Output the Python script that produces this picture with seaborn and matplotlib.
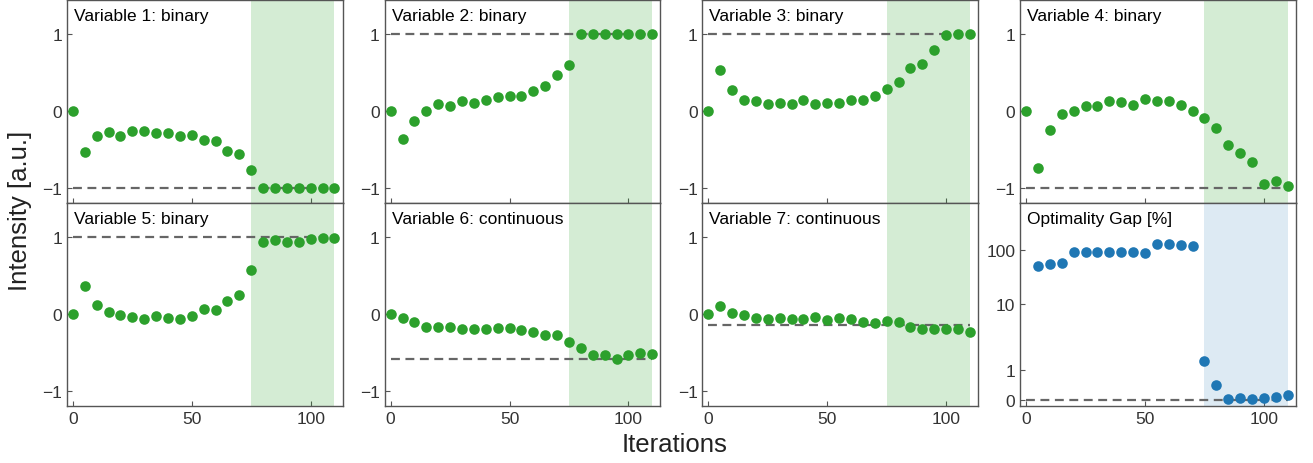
import numpy as np
import pandas as pd
import matplotlib
matplotlib.use('Agg')
import matplotlib.pyplot as plt
import seaborn as sns

# ---- data ----
iterations = list(range(0, 115, 5))          # 0, 5, ..., 110
gap_iterations = list(range(5, 115, 5))      # gap starts at iteration 5

var1 = [0, -0.54, -0.33, -0.28, -0.33, -0.26, -0.26, -0.29, -0.29, -0.32, -0.31, -0.38,
        -0.39, -0.52, -0.56, -0.77, -1, -1, -1, -1, -1, -1, -1]
var2 = [0, -0.36, -0.13, 0.0, 0.09, 0.07, 0.13, 0.10, 0.15, 0.18, 0.20, 0.19,
        0.26, 0.32, 0.47, 0.60, 1, 1, 1, 1, 1, 1, 1]
var3 = [0, 0.53, 0.27, 0.14, 0.13, 0.09, 0.11, 0.09, 0.14, 0.09, 0.11, 0.10,
        0.15, 0.14, 0.20, 0.29, 0.38, 0.56, 0.62, 0.79, 0.99, 1.0, 1.0]
var4 = [0, -0.75, -0.25, -0.04, 0.0, 0.07, 0.07, 0.13, 0.12, 0.08, 0.16, 0.13,
        0.13, 0.08, 0.0, -0.09, -0.22, -0.44, -0.55, -0.67, -0.95, -0.91, -0.98]
var5 = [0, 0.37, 0.12, 0.03, -0.01, -0.04, -0.07, -0.02, -0.05, -0.07, -0.02, 0.06,
        0.05, 0.17, 0.25, 0.57, 0.94, 0.96, 0.94, 0.94, 0.98, 0.99, 0.99]
var6 = [0, -0.05, -0.10, -0.17, -0.17, -0.17, -0.20, -0.19, -0.19, -0.18, -0.18, -0.21,
        -0.24, -0.27, -0.28, -0.36, -0.45, -0.54, -0.54, -0.59, -0.53, -0.51, -0.52]
var7 = [0, 0.10, 0.01, -0.01, -0.05, -0.06, -0.05, -0.06, -0.06, -0.04, -0.08, -0.05,
        -0.06, -0.10, -0.12, -0.09, -0.10, -0.17, -0.19, -0.19, -0.19, -0.19, -0.23]
gap = [51, 56, 60, 93, 93, 92, 92, 92, 92, 91, 134, 130, 125, 123,
       1.52, 0.41, 0.007, 0.031, 0.01, 0.048, 0.074, 0.115]

titles = ['Variable 1: binary', 'Variable 2: binary', 'Variable 3: binary',
          'Variable 4: binary', 'Variable 5: binary', 'Variable 6: continuous',
          'Variable 7: continuous', 'Optimality Gap [%]']
targets = [-1, 1, 1, -1, 1, -0.59, -0.15]
series = [var1, var2, var3, var4, var5, var6, var7]

# ---- axis scale for the gap panel (ticks 0, 1, 10, 100 unevenly spaced) ----
gap_ticks = [0, 1, 10, 100]
G = np.array([-2.0, 0.0, np.log10(2), np.log10(11), np.log10(101), 4.0])
F = np.array([-1.30, 0.0, 0.196, 0.643, 1.0, 1.74])

def gap_forward(v):
    v = np.clip(np.asarray(v, dtype=float), -0.99, None)
    return np.interp(np.log10(1 + v), G, F)

def gap_inverse(u):
    return 10 ** np.interp(np.asarray(u, dtype=float), F, G) - 1

# ---- style ----
sns.set_style('ticks', {'xtick.direction': 'in', 'ytick.direction': 'in',
                        'axes.edgecolor': '#555555'})
plt.rcParams['font.family'] = ['Liberation Sans', 'DejaVu Sans']
plt.rcParams['xtick.color'] = '#555555'
plt.rcParams['ytick.color'] = '#555555'
plt.rcParams['xtick.labelcolor'] = '#333333'
plt.rcParams['ytick.labelcolor'] = '#333333'

green = '#2ca02c'
blue = '#1f77b4'

fig, axes = plt.subplots(2, 4, figsize=(13.13, 4.64), dpi=100, sharex=True)
fig.subplots_adjust(left=0.051, right=0.987, top=0.998, bottom=0.123,
                    wspace=0.152, hspace=0)
axes = axes.flatten()

for i, ax in enumerate(axes):
    if i < 7:
        ax.axvspan(75, 110, color=green, alpha=0.2, lw=0)
        ax.hlines(targets[i], 0, 110, colors='#666666', linestyles=(0, (4, 2.5)), lw=1.6, zorder=1)
        df = pd.DataFrame({'it': iterations, 'val': series[i]})
        sns.scatterplot(data=df, x='it', y='val', ax=ax, color=green, s=58,
                        linewidth=0, zorder=3)
        ax.set_ylim(-1.2, 1.45)
        ax.set_yticks([-1, 0, 1])
    else:
        ax.set_yscale('function', functions=(gap_forward, gap_inverse))
        ax.axvspan(75, 110, color=blue, alpha=0.15, lw=0)
        ax.hlines(0, 0, 110, colors='#666666', linestyles=(0, (4, 2.5)), lw=1.6, zorder=1)
        df = pd.DataFrame({'it': gap_iterations, 'val': gap})
        sns.scatterplot(data=df, x='it', y='val', ax=ax, color=blue, s=58,
                        linewidth=0, zorder=3)
        ax.set_ylim(gap_inverse(-0.043), gap_inverse(1.319))
        ax.set_yticks(gap_ticks)
        ax.set_yticklabels([str(t) for t in gap_ticks])
        ax.minorticks_off()

    ax.set_xlim(-2.5, 113.5)
    ax.set_xticks([0, 50, 100])
    ax.set_xlabel('')
    ax.set_ylabel('')
    ax.tick_params(labelsize=12.5, length=3.5, width=0.8)
    ax.text(0.025, 0.958, titles[i], transform=ax.transAxes, ha='left', va='top',
            fontsize=12.5, color='black')
    for sp in ax.spines.values():
        sp.set_linewidth(1.0)

fig.text(0.015, 0.545, 'Intensity [a.u.]', rotation=90, ha='center', va='center',
         fontsize=18.5, color='#222222')
fig.text(0.514, 0.04, 'Iterations', ha='center', va='center', fontsize=18.5,
         color='#222222')

fig.savefig('out.png', dpi=100)
